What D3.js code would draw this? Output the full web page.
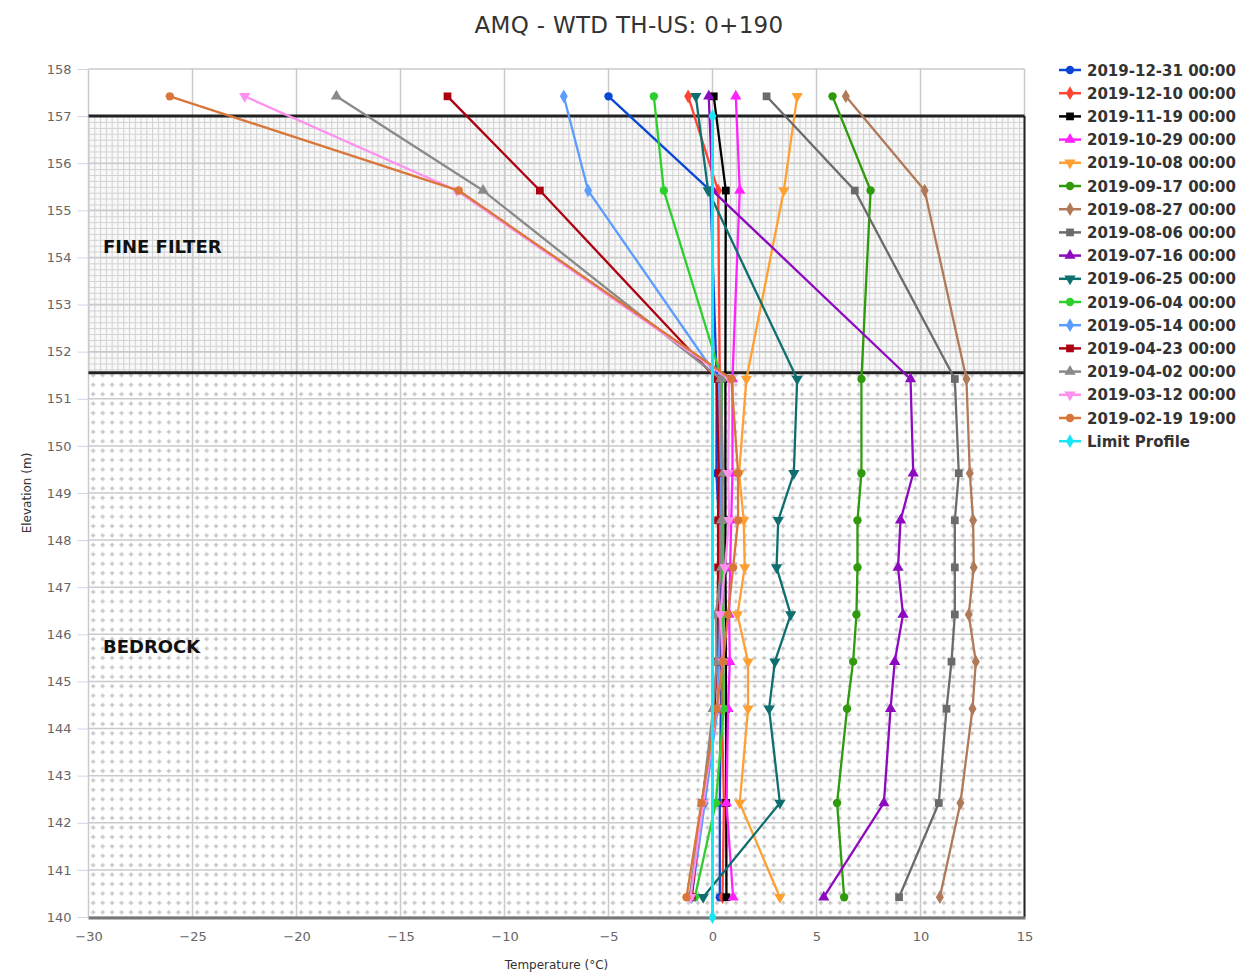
<!DOCTYPE html>
<html>
<head>
<meta charset="utf-8">
<script src="https://cdn.jsdelivr.net/npm/d3@7/dist/d3.min.js"></script>
<style>
  html, body { margin: 0; padding: 0; background: #fff; }
  svg { display: block; font-family: "DejaVu Sans", sans-serif; }
</style>
</head>
<body>
<svg id="chart" width="1241" height="976"></svg>
<script>
// ---------- DATA ----------
const chartTitle = "AMQ - WTD TH-US: 0+190";
const elevations = [157.42, 155.42, 151.42, 149.42, 148.42, 147.42, 146.42, 145.42, 144.42, 142.42, 140.42];

const seriesNames = [
  "2019-12-31 00:00", "2019-12-10 00:00", "2019-11-19 00:00", "2019-10-29 00:00",
  "2019-10-08 00:00", "2019-09-17 00:00", "2019-08-27 00:00", "2019-08-06 00:00",
  "2019-07-16 00:00", "2019-06-25 00:00", "2019-06-04 00:00", "2019-05-14 00:00",
  "2019-04-23 00:00", "2019-04-02 00:00", "2019-03-12 00:00", "2019-02-19 19:00"
];

const t20191231 = [-5.00, -0.10, 0.20, 0.19, 0.30, 0.35, 0.40, 0.40, 0.40, 0.35, 0.35];
const t20191210 = [-1.17, 0.27, 0.35, 0.40, 0.40, 0.45, 0.45, 0.45, 0.45, 0.55, 0.48];
const t20191119 = [0.06, 0.64, 0.62, 0.62, 0.62, 0.62, 0.64, 0.64, 0.65, 0.66, 0.67];
const t20191029 = [1.12, 1.31, 0.96, 0.96, 0.90, 0.85, 0.80, 0.83, 0.75, 0.67, 0.99];
const t20191008 = [4.07, 3.43, 1.63, 1.28, 1.50, 1.55, 1.20, 1.71, 1.71, 1.31, 3.24];
const t20190917 = [5.77, 7.60, 7.16, 7.16, 6.97, 6.97, 6.92, 6.76, 6.47, 5.99, 6.33];
const t20190827 = [6.41, 10.20, 12.21, 12.37, 12.53, 12.56, 12.32, 12.66, 12.50, 11.92, 10.93];
const t20190806 = [2.60, 6.84, 11.65, 11.84, 11.65, 11.65, 11.65, 11.49, 11.25, 10.88, 8.97];
const t20190716 = [-0.18, 0.00, 9.52, 9.65, 9.04, 8.92, 9.16, 8.76, 8.56, 8.24, 5.35];
const t20190625 = [-0.80, -0.21, 4.07, 3.91, 3.16, 3.08, 3.76, 3.00, 2.72, 3.24, -0.45];
const t20190604 = [-2.82, -2.34, 0.45, 0.45, 0.50, 0.50, 0.50, 0.52, 0.54, 0.16, -0.85];
const t20190514 = [-7.15, -5.98, 0.30, 0.35, 0.35, 0.30, 0.30, 0.30, 0.25, -0.37, -1.00];
const t20190423 = [-12.74, -8.30, 0.20, 0.30, 0.27, 0.27, 0.25, 0.20, 0.10, -0.50, -1.00];
const t20190402 = [-18.08, -11.03, 0.40, 0.51, 0.43, 0.43, 0.16, 0.20, 0.03, -0.50, -1.10];
const t20190312 = [-22.49, -12.30, 0.80, 0.75, 0.80, 0.60, 0.38, 0.50, 0.20, -0.45, -1.05];
const t20190219 = [-26.09, -12.20, 0.91, 1.23, 1.23, 0.99, 0.75, 0.51, 0.19, -0.53, -1.25];

const limitName = "Limit Profile";
const limitElevations = [157, 140];
const limitValues = [0, 0];

const zoneNames = ["FINE FILTER", "BEDROCK"];
const zoneTops = [157, 151.55];
const zoneBottoms = [151.55, 140];

const xTicks = [-30, -25, -20, -15, -10, -5, 0, 5, 10, 15];
const yTicks = [158, 157, 156, 155, 154, 153, 152, 151, 150, 149, 148, 147, 146, 145, 144, 143, 142, 141, 140];

// ---------- STYLE ----------
const palette = ["#0a47d6", "#ff4433", "#000000", "#ff22ff", "#ffa033", "#2f9a0c", "#b07a58", "#6b6b6b",
                 "#8e0abf", "#0f6e6e", "#2ccf2c", "#5c9cff", "#ad0010", "#8a8a8a", "#ff90f0", "#d9773a"];
const symbols = [d3.symbolCircle, d3.symbolDiamond, d3.symbolSquare, d3.symbolTriangle, "tdown"];
const limitColor = "#19e6f5";

const allTemps = [t20191231, t20191210, t20191119, t20191029, t20191008, t20190917, t20190827, t20190806,
                  t20190716, t20190625, t20190604, t20190514, t20190423, t20190402, t20190312, t20190219];

const series = seriesNames.map((name, i) => ({
  name, color: palette[i], symbol: symbols[i % 5],
  points: elevations.map((e, j) => ({ e, t: allTemps[i][j] }))
}));
series.push({ name: limitName, color: limitColor, symbol: d3.symbolDiamond,
  points: limitElevations.map((e, j) => ({ e, t: limitValues[j] })) });

// ---------- LAYOUT ----------
const svg = d3.select("#chart");
const L = 88.5, R = 1024.5, T = 69, B = 917;
const x = d3.scaleLinear().domain([-30, 15]).range([L, R]);
const y = d3.scaleLinear().domain([140, 158]).range([B, T]);

const defs = svg.append("defs");
// fine filter grid pattern
const pg = defs.append("pattern").attr("id", "grid").attr("patternUnits", "userSpaceOnUse")
  .attr("x", L).attr("y", y(157)).attr("width", 5.78).attr("height", 5.89);
pg.append("rect").attr("width", 5.78).attr("height", 5.89).attr("fill", "#f9f9f9");
pg.append("path").attr("d", "M0,0.5H5.78M0.5,0V5.89").attr("stroke", "#d2d2d2").attr("stroke-width", 1.1);
// bedrock plus pattern
const pp = defs.append("pattern").attr("id", "plus").attr("patternUnits", "userSpaceOnUse")
  .attr("x", L).attr("y", y(140)).attr("width", 9.45).attr("height", 9.42);
pp.append("rect").attr("width", 9.45).attr("height", 9.42).attr("fill", "#ffffff");
pp.append("path").attr("d", "M4.7,2.5V6.9M2.5,4.7H6.9").attr("stroke", "#c4c4c4").attr("stroke-width", 1.5);

// zones
const zonePatterns = ["url(#grid)", "url(#plus)"];
zoneNames.forEach((n, i) => {
  svg.append("rect").attr("x", L).attr("y", y(zoneTops[i]))
    .attr("width", R - L).attr("height", y(zoneBottoms[i]) - y(zoneTops[i]))
    .attr("fill", zonePatterns[i]);
});

// gridlines
svg.append("g").selectAll("line").data(yTicks).join("line")
  .attr("x1", L).attr("x2", R).attr("y1", d => y(d)).attr("y2", d => y(d))
  .attr("stroke", "#cacaca").attr("stroke-width", 1.5);
svg.append("g").selectAll("line").data(xTicks).join("line")
  .attr("x1", d => x(d)).attr("x2", d => x(d)).attr("y1", T).attr("y2", B)
  .attr("stroke", "#cacaca").attr("stroke-width", 1.5);

// zone borders
svg.append("line").attr("x1", L).attr("x2", R).attr("y1", y(157)).attr("y2", y(157))
  .attr("stroke", "#222").attr("stroke-width", 3);
svg.append("line").attr("x1", L).attr("x2", R).attr("y1", y(151.55)).attr("y2", y(151.55))
  .attr("stroke", "#222").attr("stroke-width", 3);
svg.append("line").attr("x1", R).attr("x2", R).attr("y1", y(157)).attr("y2", B)
  .attr("stroke", "#222").attr("stroke-width", 2);
svg.append("line").attr("x1", L).attr("x2", R + 1).attr("y1", B + 1).attr("y2", B + 1)
  .attr("stroke", "#777").attr("stroke-width", 3);

// zone labels
const labelY = [253, 653];
zoneNames.forEach((n, i) => {
  svg.append("text").attr("x", 103).attr("y", labelY[i]).text(n)
    .attr("font-size", 18).attr("font-weight", "bold").attr("fill", "#111");
});

// axes
const yAxis = d3.axisLeft(y).tickValues(yTicks).tickFormat(d3.format("d")).tickSize(11).tickPadding(6);
const gy = svg.append("g").attr("transform", `translate(${L},0)`).call(yAxis);
gy.select(".domain").remove();
gy.selectAll(".tick line").attr("stroke", "#ccd6eb").attr("stroke-width", 1);
gy.selectAll(".tick text").attr("font-size", 13).attr("fill", "#666").attr("font-family", "DejaVu Sans");

const xAxis = d3.axisBottom(x).tickValues(xTicks).tickFormat(d => d < 0 ? "\u2212" + Math.abs(d) : d).tickSize(0).tickPadding(15);
const gx = svg.append("g").attr("transform", `translate(0,${B})`).call(xAxis);
gx.select(".domain").remove();
gx.selectAll(".tick text").attr("font-size", 13).attr("fill", "#666").attr("font-family", "DejaVu Sans");

svg.append("text").attr("x", (L + R) / 2).attr("y", 969).attr("text-anchor", "middle")
  .attr("font-size", 12).attr("fill", "#333").text("Temperature (°C)");
svg.append("text").attr("transform", `translate(31,${(T + B) / 2}) rotate(-90)`).attr("text-anchor", "middle")
  .attr("font-size", 12).attr("fill", "#333").text("Elevation (m)");

// title
svg.append("text").attr("x", 629).attr("y", 33).attr("text-anchor", "middle")
  .attr("font-size", 23).attr("letter-spacing", 0.3).attr("fill", "#333").text(chartTitle);

// symbol helper
function symPath(sym, size) {
  if (sym === "tdown") return d3.symbol(d3.symbolTriangle, size)();
  return d3.symbol(sym, size)();
}
function markerTransform(sym, px, py) {
  return sym === "tdown" ? `translate(${px},${py}) rotate(180)` : `translate(${px},${py})`;
}

// series
const line = d3.line().x(d => x(d.t)).y(d => y(d.e));
const gs = svg.append("g");
series.forEach((s, i) => {
  const g = gs.append("g");
  const isLimit = s.name === limitName;
  g.append("path").attr("d", line(s.points)).attr("fill", "none")
    .attr("stroke", s.color).attr("stroke-width", isLimit ? 3 : 2.3).attr("stroke-linejoin", "round");
  g.selectAll("path.m").data(s.points).join("path").attr("class", "m")
    .attr("d", symPath(s.symbol, s.symbol === d3.symbolSquare ? 60 : 55))
    .attr("transform", d => markerTransform(s.symbol, x(d.t), y(d.e)))
    .attr("fill", s.color);
});

// legend
const lg = svg.append("g");
series.forEach((s, i) => {
  const ly = 70 + i * 23.2;
  lg.append("line").attr("x1", 1059).attr("x2", 1081).attr("y1", ly).attr("y2", ly)
    .attr("stroke", s.color).attr("stroke-width", 2.5);
  lg.append("path").attr("d", symPath(s.symbol, s.symbol === d3.symbolSquare ? 60 : 55))
    .attr("transform", markerTransform(s.symbol, 1070, ly)).attr("fill", s.color);
  lg.append("text").attr("x", 1087).attr("y", ly + 5.5).text(s.name)
    .attr("font-size", 15).attr("font-weight", "bold").attr("fill", "#333");
});
</script>
</body>
</html>
